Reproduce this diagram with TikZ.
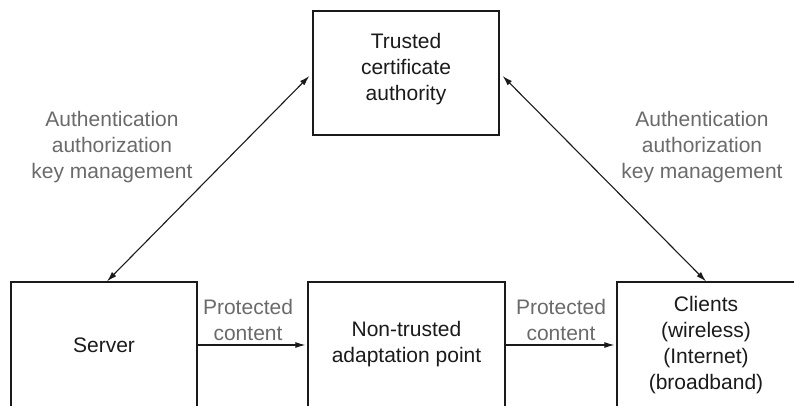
\documentclass[tikz,border=0pt]{standalone}
\usepackage{fontspec}
\setmainfont{Liberation Sans}
\usetikzlibrary{arrows.meta}
\definecolor{labelgray}{HTML}{6A6A6A}
\definecolor{ink}{HTML}{1A1A1A}
\begin{document}
\begin{tikzpicture}[x=1pt,y=-1pt,
  every node/.style={font=\fontsize{21pt}{26pt}\selectfont, align=center, inner sep=0pt},
  box/.style={draw=ink, line width=1.3pt, minimum height=126pt},
  boxtext/.style={text=ink},
  note/.style={text=labelgray},
  link/.style={draw=ink, line width=1.1pt, -{Latex[length=10pt,width=6pt]}},
  dlink/.style={link, {Latex[length=10pt,width=6pt]}-{Latex[length=10pt,width=6pt]}}]
\useasboundingbox (0,0) rectangle (794,405);
\begin{scope}
\clip (0,0) rectangle (794,405);
% main boxes (the bottom row runs off the lower edge)
\node[box, minimum width=186pt, minimum height=124pt] (ca) at (406,73) {};
\node[boxtext] (catext) at (406,69) {Trusted\\certificate\\authority};
\node[box, minimum width=186pt] (server) at (104,345) {};
\node[boxtext] (servertext) at (104,345) {Server};
\node[box, minimum width=197pt] (adapt) at (406.5,345) {};
\node[boxtext] (adapttext) at (406.5,344) {Non-trusted\\adaptation point};
\node[box, minimum width=203pt] (clients) at (718.5,345) {};
\node[boxtext] (clientstext) at (706,345.5) {Clients\\(wireless)\\(Internet)\\(broadband)};
% connectors
\draw[dlink] ([xshift=3pt]server.north) -- ([xshift=-3pt,yshift=-3pt]ca.west);
\draw[dlink] ([xshift=3pt,yshift=-3pt]ca.east) -- ([xshift=-12.5pt]clients.north);
\draw[link] (server.east) -- ([xshift=-2pt]adapt.west);
\draw[link] (adapt.east) -- ([xshift=-2pt]clients.west);
% connector labels
\node[note] (leftnote) at (112,147) {Authentication\\authorization\\key management};
\node[note] (rightnote) at (702,147) {Authentication\\authorization\\key management};
\node[note] (pc1) at (248,320) {Protected\\content};
\node[note] (pc2) at (561,320) {Protected\\content};
\end{scope}
\end{tikzpicture}
\end{document}
